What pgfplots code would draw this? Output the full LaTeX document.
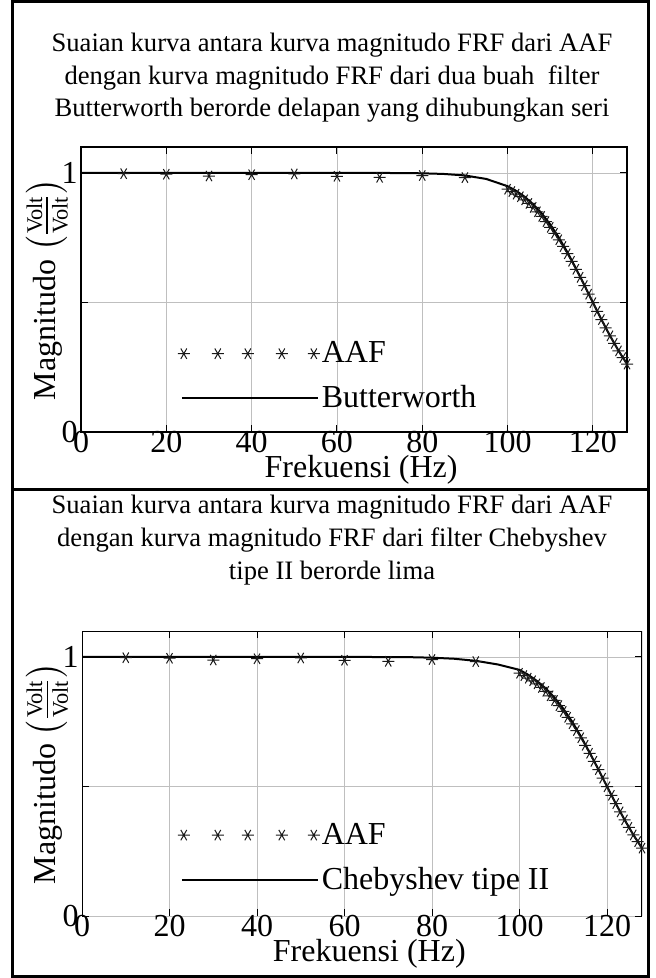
\documentclass[border=0pt]{standalone}
\usepackage{fontspec}
\setmainfont{Liberation Serif}
\usepackage{amsmath}
\usepackage{pgfplots}
\pgfplotsset{compat=1.18}

\pgfplotstableread{
f     m
10    0.997
20    0.995
30    0.988
40    0.993
50    0.996
60    0.987
70    0.983
80    0.990
90    0.982
100   0.937
101   0.928
102   0.918
103   0.908
104   0.896
105   0.882
106   0.867
107   0.850
108   0.832
109   0.812
110   0.790
111   0.767
112   0.742
113   0.716
114   0.688
115   0.659
116   0.628
117   0.597
118   0.565
119   0.532
120   0.499
121   0.466
122   0.434
123   0.402
124   0.371
125   0.342
126   0.313
127   0.287
128   0.262
}\aaf

\pgfplotstableread{
f     m
0     1
20    1
40    1
60    1
70    0.9998
75    0.9995
80    0.9985
85    0.996
90    0.9901
95    0.9767
100   0.9487
102   0.9309
104   0.9080
106   0.8792
108   0.8437
110   0.8009
112   0.7510
114   0.6944
116   0.6324
118   0.5668
120   0.5000
122   0.4343
124   0.3718
126   0.3142
128   0.2626
}\butter

\pgfplotstableread{
f     m
0     1
20    1
40    1
60    1
70    0.9995
75    0.999
80    0.997
85    0.993
90    0.985
95    0.971
100   0.950
102   0.931
104   0.907
106   0.878
108   0.843
110   0.800
112   0.751
114   0.694
116   0.632
118   0.567
120   0.500
122   0.434
124   0.372
126   0.314
128   0.262
}\cheby

\pgfplotsset{
  frf/.style={
    scale only axis, anchor=south west,
    xmin=0, xmax=128, ymin=0, ymax=1.1,
    xtick={0,20,...,120}, ytick={0,0.5,1}, yticklabels={0,,1},
    grid=major, grid style={gray!50, line width=0.4pt},
    tick align=inside, major tick length=3.5pt,
    tick style={black, line width=0.5pt},
    axis line style={line width=0.8pt},
    /pgf/number format/assume math mode=true,
    ticklabel style={font=\fontsize{16}{18}\selectfont, inner sep=1.5pt},
    xticklabel style={yshift=2pt},
    label style={font=\fontsize{16}{18}\selectfont},
    xlabel={Frekuensi (Hz)},
    ylabel={Magnitudo $\left(\frac{\text{Volt}}{\text{Volt}}\right)$},
    xlabel style={at={(axis description cs:0.513,-0.133)}, anchor=center},
    ylabel style={at={(axis description cs:-0.062,0.5)}, anchor=center},
    legend cell align=left,
    legend style={draw=none, fill=none, inner sep=0pt, row sep=8pt,
      font=\fontsize{16}{18}\selectfont, nodes={inner sep=1pt},
      /tikz/every even column/.append style={column sep=3pt}},
  },
  aafplot/.style={only marks, mark=asterisk, mark size=3pt,
    mark options={black!90, line width=0.5pt, rotate=90},
    legend image code/.code={\draw[##1] plot[only marks] coordinates
      {(1pt,0pt) (18pt,0pt) (33pt,0pt) (50pt,0pt) (66pt,0pt)};}},
  fitplot/.style={black, line width=1pt, no marks,
    legend image code/.code={\draw[##1] (0pt,0pt) -- (68pt,0pt);}},
}

\begin{document}
\begin{tikzpicture}
\path (0,0) rectangle (327.5pt,-489pt);
\draw[line width=1.5pt] (6pt,-1pt) rectangle (324pt,-488pt);
\draw[line width=1.5pt] (6pt,-244.5pt) -- (324pt,-244.5pt);

\node[align=center, font=\fontsize{13.3}{16.3}\selectfont] at (166pt,-39pt)
  {Suaian kurva antara kurva magnitudo FRF dari AAF\\
   dengan kurva magnitudo FRF dari dua buah\ \ filter\\
   Butterworth berorde delapan yang dihubungkan seri};

\node[align=center, font=\fontsize{13.3}{16.3}\selectfont] at (166pt,-270pt)
  {Suaian kurva antara kurva magnitudo FRF dari AAF\\
   dengan kurva magnitudo FRF dari filter Chebyshev\\
   tipe II berorde lima};

\begin{axis}[frf, at={(40.5pt,-216pt)}, width=273pt, height=142.5pt,
  legend style={at={(axis cs:22.6,0.215)}, anchor=west}]
\addplot[aafplot] table[x=f, y=m] {\aaf};
\addlegendentry{AAF}
\addplot[fitplot] table[x=f, y=m] {\butter};
\addlegendentry{Butterworth}
\end{axis}

\begin{axis}[frf, at={(41pt,-458pt)}, width=280pt, height=142.5pt,
  axis line style={draw=none},
  legend style={at={(axis cs:21.8,0.225)}, anchor=west}]
\addplot[aafplot] table[x=f, y=m] {\aaf};
\addlegendentry{AAF}
\addplot[fitplot] table[x=f, y=m] {\cheby};
\addlegendentry{Chebyshev tipe II}
\draw[line width=0.8pt] (rel axis cs:0,0) -- (rel axis cs:0,1)
  -- (rel axis cs:1,1) -- (rel axis cs:1,0);
\end{axis}
\end{tikzpicture}
\end{document}
